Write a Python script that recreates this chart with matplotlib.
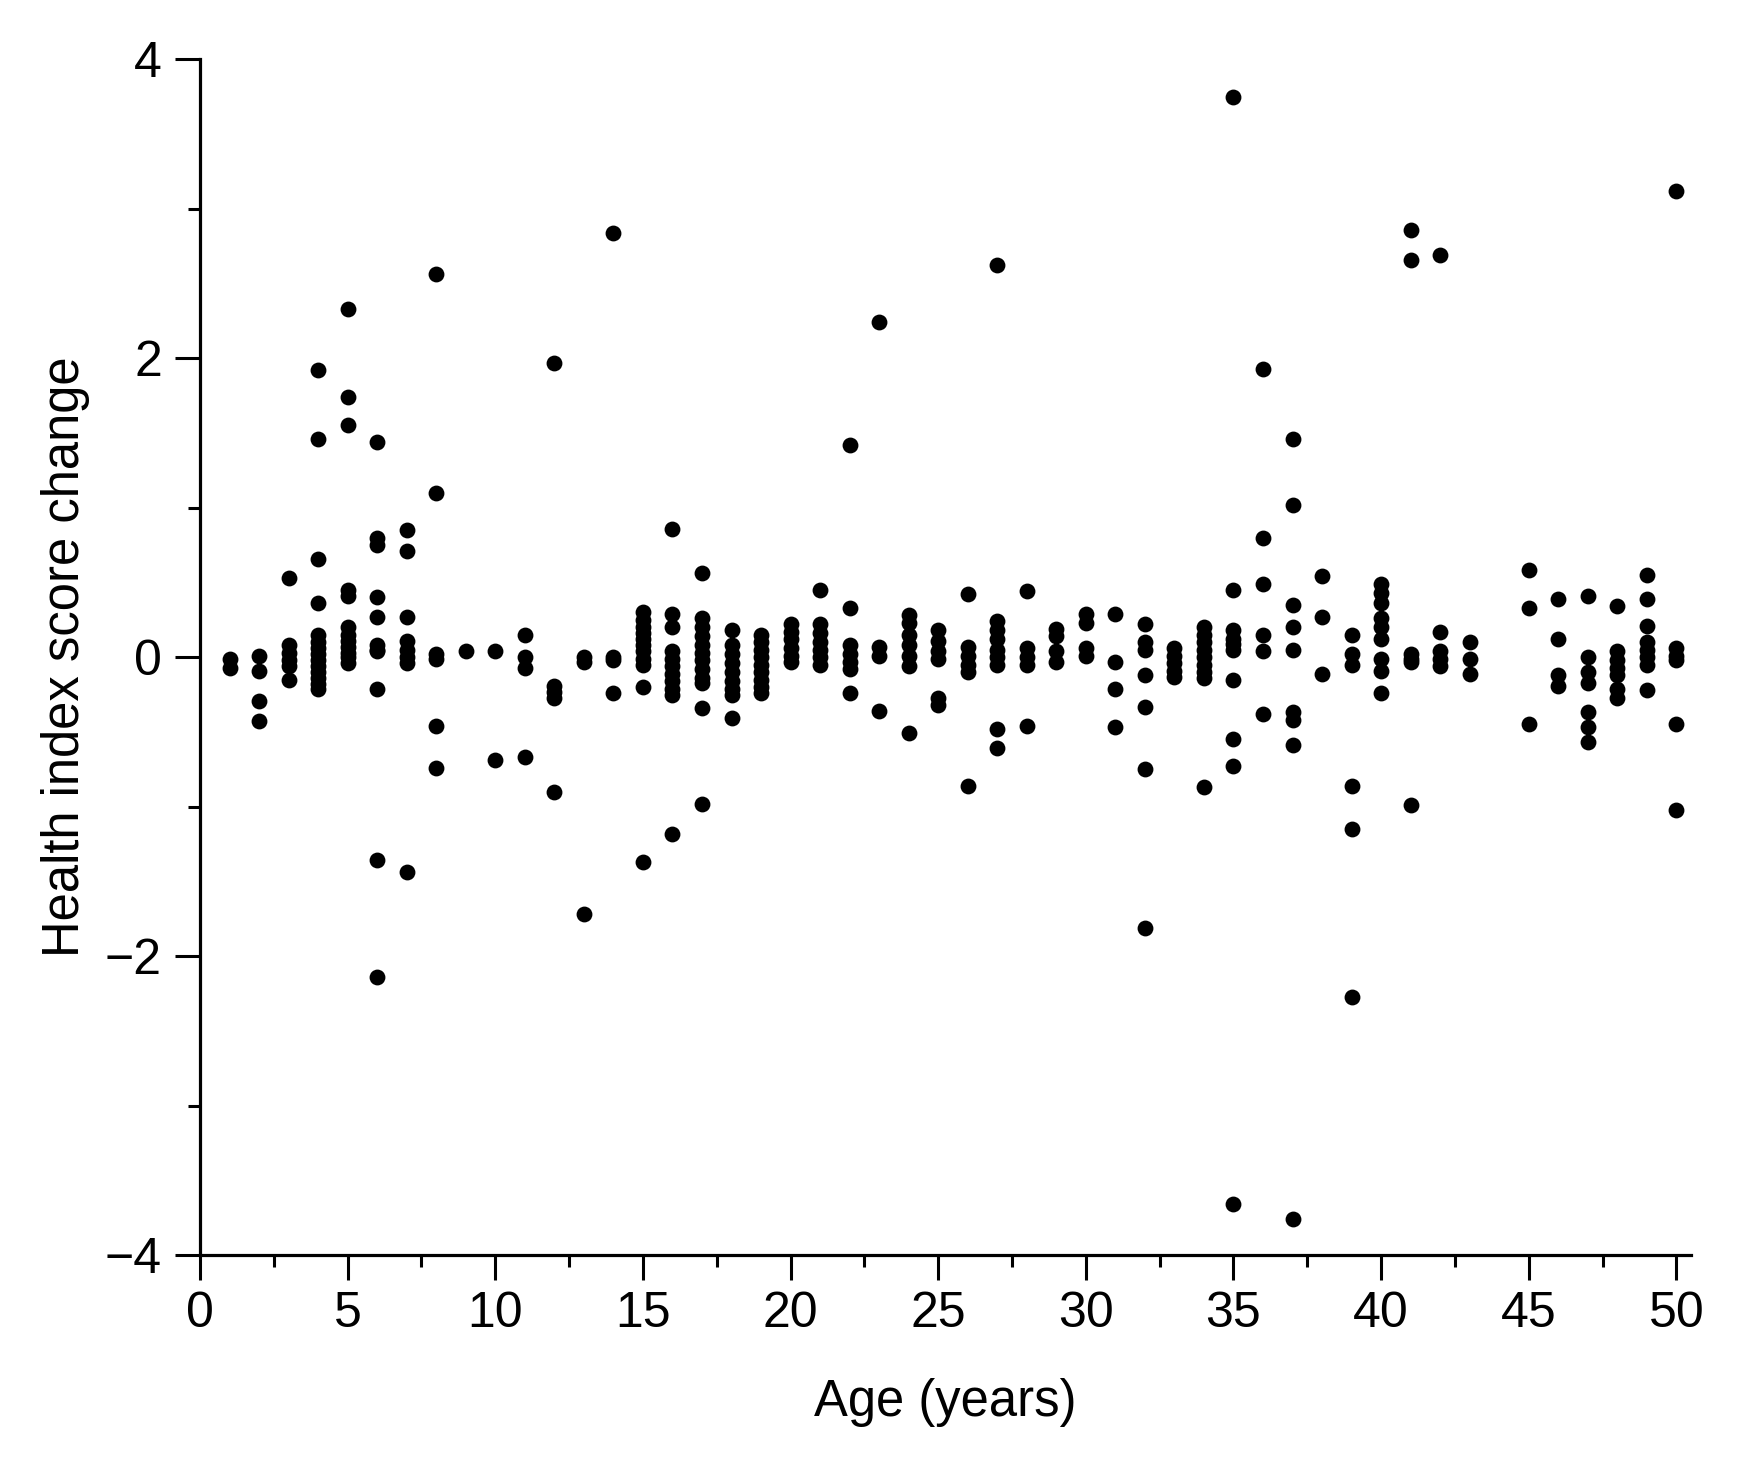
import numpy as np
import matplotlib.pyplot as plt
from matplotlib.ticker import MultipleLocator

# one entry per point: age and score change
age = (
    [1] * 2 + [2] * 4 + [3] * 6 + [4] * 14 + [5] * 12 + [6] * 11 + [7] * 8 + [8] * 6
    + [9] * 1 + [10] * 2 + [11] * 4 + [12] * 5 + [13] * 3 + [14] * 4 + [15] * 11
    + [16] * 11 + [17] * 12 + [18] * 9 + [19] * 9 + [20] * 6 + [21] * 7 + [22] * 7
    + [23] * 4 + [24] * 7 + [25] * 6 + [26] * 6 + [27] * 9 + [28] * 5 + [29] * 4
    + [30] * 4 + [31] * 4 + [32] * 7 + [33] * 5 + [34] * 9 + [35] * 10 + [36] * 6
    + [37] * 9 + [38] * 3 + [39] * 6 + [40] * 9 + [41] * 6 + [42] * 5 + [43] * 3
    + [45] * 3 + [46] * 4 + [47] * 7 + [48] * 7 + [49] * 8 + [50] * 6
)

score = [
    -0.01, -0.07,                                   # 1
    0.01, -0.09, -0.29, -0.43,                      # 2
    0.53, 0.08, 0.03, -0.02, -0.06, -0.15,          # 3
    1.92, 1.46, 0.66, 0.36, 0.15, 0.1, 0.06, 0.02, -0.02, -0.06, -0.1, -0.14, -0.18, -0.21,  # 4
    2.33, 1.74, 1.55, 0.45, 0.41, 0.2, 0.15, 0.11, 0.07, 0.03, 0.0, -0.04,  # 5
    1.44, 0.8, 0.75, 0.4, 0.27, 0.08, 0.05, -0.21, -1.36, -2.14, 0.04,     # 6
    0.85, 0.71, 0.27, 0.11, 0.05, 0.0, -0.04, -1.44,  # 7
    2.56, 1.1, 0.02, -0.01, -0.46, -0.74,           # 8
    0.04,                                           # 9
    0.04, -0.69,                                    # 10
    0.15, 0.0, -0.07, -0.67,                        # 11
    1.97, -0.19, -0.23, -0.27, -0.9,                # 12
    0.0, -0.03, -1.72,                              # 13
    2.84, 0.0, -0.02, -0.24,                        # 14
    0.3, 0.25, 0.2, 0.16, 0.12, 0.08, 0.04, -0.01, -0.05, -0.2, -1.37,  # 15
    0.86, 0.29, 0.2, 0.04, -0.01, -0.06, -0.11, -0.16, -0.21, -0.25, -1.18,  # 16
    0.56, 0.26, 0.2, 0.14, 0.08, 0.03, -0.02, -0.08, -0.14, -0.17, -0.34, -0.98,  # 17
    0.18, 0.08, 0.02, -0.04, -0.1, -0.16, -0.21, -0.25, -0.41,  # 18
    0.15, 0.1, 0.05, 0.0, -0.05, -0.1, -0.15, -0.2, -0.24,  # 19
    0.22, 0.17, 0.12, 0.06, 0.01, -0.03,            # 20
    0.45, 0.22, 0.16, 0.1, 0.05, 0.0, -0.05,        # 21
    1.42, 0.33, 0.08, 0.02, -0.03, -0.08, -0.24,    # 22
    2.24, 0.07, 0.01, -0.36,                        # 23
    0.28, 0.23, 0.15, 0.08, 0.01, -0.06, -0.51,     # 24
    0.18, 0.11, 0.04, -0.01, -0.27, -0.32,          # 25
    0.42, 0.07, 0.01, -0.05, -0.1, -0.86,           # 26
    2.62, 0.24, 0.18, 0.12, 0.05, 0.0, -0.05, -0.48, -0.61,  # 27
    0.44, 0.06, 0.0, -0.05, -0.46,                  # 28
    0.19, 0.14, 0.04, -0.03,                        # 29
    0.29, 0.23, 0.06, 0.01,                         # 30
    0.29, -0.03, -0.21, -0.47,                      # 31
    0.22, 0.1, 0.05, -0.12, -0.33, -0.75, -1.81,    # 32
    0.06, 0.01, -0.04, -0.09, -0.13,                # 33
    0.2, 0.15, 0.1, 0.05, 0.0, -0.05, -0.1, -0.14, -0.87,  # 34
    3.75, 0.45, 0.18, 0.12, 0.05, -0.15, -0.55, -0.73, -3.66, 0.09,  # 35
    1.93, 0.8, 0.49, 0.15, 0.04, -0.38,             # 36
    1.46, 1.02, 0.35, 0.2, 0.05, -0.37, -0.42, -0.59, -3.76,  # 37
    0.54, 0.27, -0.11,                              # 38
    0.15, 0.02, -0.05, -0.86, -1.15, -2.27,         # 39
    0.49, 0.43, 0.36, 0.26, 0.2, 0.12, -0.01, -0.09, -0.24,  # 40
    2.86, 2.66, 0.02, -0.01, -0.03, -0.99,          # 41
    2.69, 0.17, 0.04, -0.01, -0.06,                 # 42
    0.1, -0.01, -0.11,                              # 43
    0.58, 0.33, -0.45,                              # 45
    0.39, 0.12, -0.12, -0.19,                       # 46
    0.41, 0.0, -0.1, -0.17, -0.37, -0.47, -0.57,    # 47
    0.34, 0.04, -0.02, -0.07, -0.12, -0.21, -0.27,  # 48
    0.55, 0.39, 0.21, 0.1, 0.05, 0.0, -0.05, -0.22, # 49
    3.12, 0.06, 0.01, -0.02, -0.45, -1.02,          # 50
]

x_ticks = np.arange(0, 51, 5)
y_ticks = [-4, -2, 0, 2, 4]

plt.rcParams['font.family'] = ['Liberation Sans', 'DejaVu Sans']

fig = plt.figure(figsize=(17.44, 14.72), dpi=100)
ax = fig.add_axes([0.1147, 0.1473, 0.855, 0.8125])

ax.scatter(age, score, s=130, c='black', marker='o', linewidths=0, zorder=3)

ax.set_xlim(0, 50.5)
ax.set_ylim(-4, 4)
ax.set_xticks(x_ticks)
ax.set_yticks(y_ticks)
ax.xaxis.set_minor_locator(MultipleLocator(2.5))
ax.yaxis.set_minor_locator(MultipleLocator(1))

for s in ['top', 'right']:
    ax.spines[s].set_visible(False)
for s in ['left', 'bottom']:
    ax.spines[s].set_linewidth(2.3)

ax.tick_params(which='major', direction='out', length=18, width=2.2,
               labelsize=36)
ax.tick_params(axis='x', which='major', pad=8)
ax.tick_params(axis='y', which='major', pad=9.5)
ax.tick_params(which='minor', direction='out', length=8.5, width=2.2)

ax.set_xlabel('Age (years)', fontsize=36.5)
ax.set_ylabel('Health index score change', fontsize=36.5)
ax.xaxis.set_label_coords(0.5, -0.123)
ax.xaxis.label.set_va('center')
ax.yaxis.set_label_coords(-0.090, 0.5)
ax.yaxis.label.set_va('center')

fig.savefig('out.png', dpi=100, facecolor='white')
